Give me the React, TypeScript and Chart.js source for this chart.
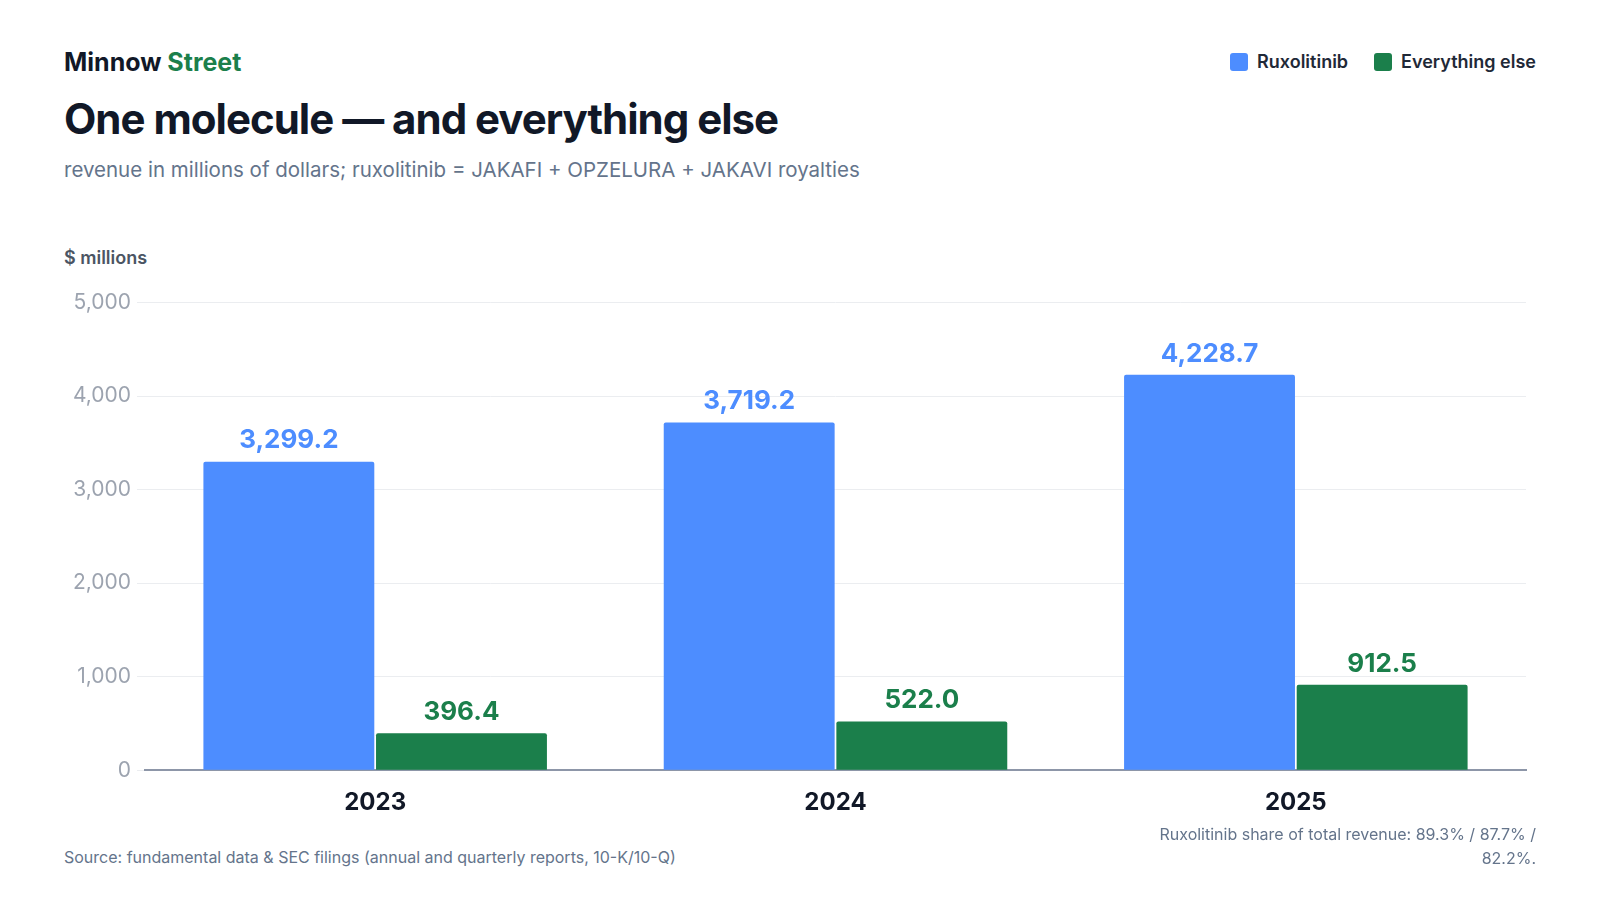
import { useEffect, useRef } from "react";
import { Chart, registerables } from "chart.js";

Chart.register(...registerables);

const years = ["2023", "2024", "2025"];
const ruxolitinib = [3299.2, 3719.2, 4228.7];
const everythingElse = [396.4, 522.0, 912.5];

const BLUE = "#4d8dff";
const GREEN = "#1b7f4b";
const FONT = "Inter, 'Noto Sans', sans-serif";

const valueLabels = {
  id: "valueLabels",
  afterDatasetsDraw(chart: Chart) {
    const ctx = chart.ctx;
    ctx.save();
    ctx.font = `700 26px ${FONT}`;
    ctx.textAlign = "center";
    ctx.textBaseline = "bottom";
    chart.data.datasets.forEach((ds, i) => {
      const meta = chart.getDatasetMeta(i);
      ctx.fillStyle = ds.backgroundColor as string;
      meta.data.forEach((bar: any, j) => {
        const v = ds.data[j] as number;
        ctx.fillText(v.toLocaleString("en-US", { minimumFractionDigits: 1, maximumFractionDigits: 1 }), bar.x, bar.y - 8);
      });
    });
    ctx.restore();
  },
};

export default function App() {
  const ref = useRef<HTMLCanvasElement | null>(null);

  useEffect(() => {
    document.body.style.margin = "0";
    if (!ref.current) return;
    const chart = new Chart(ref.current, {
      type: "bar",
      data: {
        labels: years,
        datasets: [
          { label: "Ruxolitinib", data: ruxolitinib, backgroundColor: BLUE, borderRadius: 2, categoryPercentage: 0.75, barPercentage: 0.99 },
          { label: "Everything else", data: everythingElse, backgroundColor: GREEN, borderRadius: 2, categoryPercentage: 0.75, barPercentage: 0.99 },
        ],
      },
      options: {
        animation: false,
        responsive: false,
        layout: { padding: { top: 17, right: 5 } },
        plugins: { legend: { display: false }, tooltip: { enabled: false } },
        scales: {
          x: {
            grid: { display: false },
            border: { color: "#8d96a8", width: 2 },
            ticks: { color: "#111827", font: { family: FONT, size: 24, weight: "bold" }, padding: 10 },
          },
          y: {
            min: 0,
            max: 5000,
            afterFit: (s: any) => { s.width = 77; },
            ticks: { stepSize: 1000, color: "#9ca3af", font: { family: FONT, size: 21 }, padding: 6 },
            grid: { color: "#ebedf0" },
            border: { display: false },
          },
        },
      },
      plugins: [valueLabels],
    });
    return () => chart.destroy();
  }, []);

  return (
    <div style={{ position: "relative", width: 1600, height: 900, background: "#fff", fontFamily: FONT }}>
      <div style={{ position: "absolute", left: 64, top: 47, fontSize: 25, fontWeight: 700, color: "#111827" }}>
        Minnow <span style={{ color: GREEN }}>Street</span>
      </div>
      <div style={{ position: "absolute", right: 64, top: 51, display: "flex", gap: 26, fontSize: 18, fontWeight: 600, color: "#1f2937" }}>
        <span style={{ display: "flex", alignItems: "center", gap: 9 }}>
          <span style={{ width: 18, height: 18, borderRadius: 3, background: BLUE }} />Ruxolitinib
        </span>
        <span style={{ display: "flex", alignItems: "center", gap: 9 }}>
          <span style={{ width: 18, height: 18, borderRadius: 3, background: GREEN }} />Everything else
        </span>
      </div>
      <div style={{ position: "absolute", left: 64, top: 93, fontSize: 42, fontWeight: 700, color: "#111827", letterSpacing: -1 }}>
        One molecule — and everything else
      </div>
      <div style={{ position: "absolute", left: 64, top: 157, fontSize: 20.5, color: "#64748b" }}>
        revenue in millions of dollars; ruxolitinib = JAKAFI + OPZELURA + JAKAVI royalties
      </div>
      <div style={{ position: "absolute", left: 64, top: 247, fontSize: 18, fontWeight: 600, color: "#4b5563" }}>$ millions</div>
      <canvas ref={ref} width={1463} height={543} style={{ position: "absolute", left: 68, top: 284 }} />
      <div style={{ position: "absolute", left: 64, top: 847, fontSize: 16, color: "#64748b" }}>
        Source: fundamental data &amp; SEC filings (annual and quarterly reports, 10-K/10-Q)
      </div>
      <div style={{ position: "absolute", right: 64, top: 822, width: 400, textAlign: "right", fontSize: 16, lineHeight: "24px", color: "#64748b" }}>
        Ruxolitinib share of total revenue: 89.3% / 87.7% / 82.2%.
      </div>
    </div>
  );
}
